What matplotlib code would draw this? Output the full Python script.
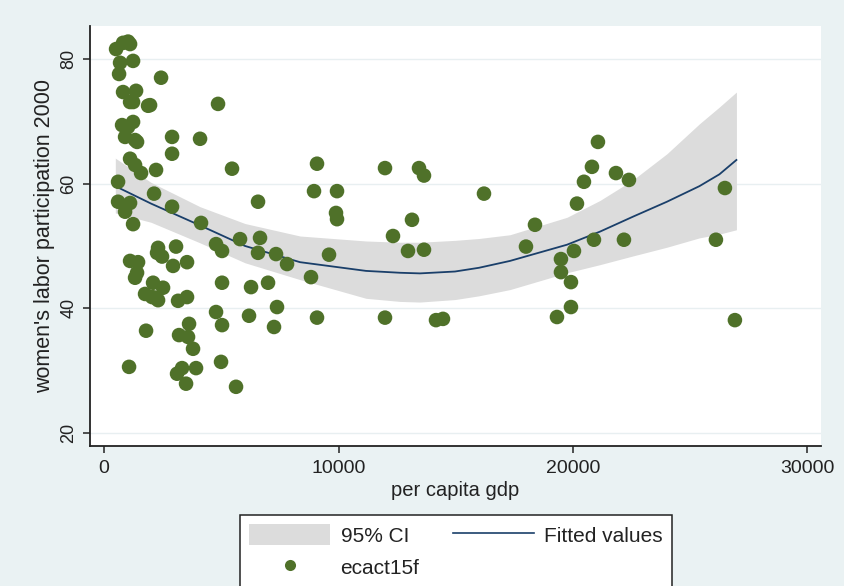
import matplotlib
matplotlib.use("Agg")
import matplotlib.pyplot as plt
from matplotlib.patches import Patch
from matplotlib.lines import Line2D

plt.rcParams['font.family'] = ['Liberation Sans', 'DejaVu Sans']

# ---- data ----
gdp = [512, 810, 1023, 1109, 682, 1237, 640, 2431, 810, 1365, 1109, 1237, 1876, 1962, 4861,
       768, 1237, 1023, 896, 1407, 1322, 2900, 4094, 2900, 1109, 1322, 1578, 2217, 5458,
       597, 2132, 597, 1109, 896, 2900, 6567, 1237, 4136, 2303, 2260, 2473, 3070, 4776,
       5032, 5800, 6652, 6567, 7335, 7804, 1109, 1450, 2942, 3539, 1407, 1322, 5032, 6269,
       6994, 2090, 2516, 1748, 2175, 2303, 2047, 3156, 3539, 4776, 5032, 6183, 7377, 7249,
       1791, 3625, 3198, 3582, 3795, 4989, 1066, 3326, 3113, 3923, 3497, 5629,
       9083, 11983, 13433, 13646, 8955, 9936, 16205, 9893, 9936, 13134, 12324, 9595, 12964,
       13646, 8827, 9083, 11983, 14158, 14456,
       21066, 20810, 21834, 22388, 20469, 20171, 18380, 17996, 20896, 22175, 20043, 19488,
       19488, 19915, 19915, 19318, 26482, 26098, 26908]
ecact15f = [81.6, 82.6, 82.8, 82.4, 79.4, 79.7, 77.6, 77.0, 74.7, 74.9, 73.1, 73.1, 72.5, 72.6, 72.8,
            69.4, 69.9, 69.1, 67.5, 66.7, 67.0, 67.5, 67.2, 64.8, 64.0, 63.0, 61.7, 62.2, 62.4,
            60.3, 58.4, 57.1, 56.9, 55.5, 56.3, 57.1, 53.5, 53.7, 49.7, 48.9, 48.3, 49.9, 50.3,
            49.2, 51.1, 51.3, 48.9, 48.7, 47.1, 47.6, 47.4, 46.8, 47.4, 45.7, 44.9, 44.1, 43.4,
            44.1, 44.1, 43.3, 42.3, 41.7, 41.3, 41.8, 41.2, 41.8, 39.4, 37.3, 38.8, 40.2, 37.0,
            36.4, 37.5, 35.7, 35.4, 33.5, 31.4, 30.6, 30.4, 29.5, 30.4, 27.9, 27.4,
            63.2, 62.5, 62.5, 61.3, 58.8, 58.8, 58.4, 55.3, 54.3, 54.2, 51.6, 48.6, 49.2,
            49.4, 45.0, 38.5, 38.5, 38.1, 38.3,
            66.7, 62.7, 61.7, 60.6, 60.3, 56.8, 53.4, 49.9, 51.0, 51.0, 49.2, 47.9,
            45.8, 44.2, 40.2, 38.6, 59.3, 51.0, 38.1]

fit_x = [480, 2004, 4094, 6013, 8358, 11173, 12623, 13475, 14968, 15991, 17313, 19744,
         21151, 22559, 24009, 25394, 26247, 26972]
fitted = [59.6, 56.8, 53.3, 50.0, 47.4, 46.0, 45.7, 45.6, 45.9, 46.5, 47.6, 50.2,
          52.3, 54.7, 57.1, 59.6, 61.5, 63.8]
ci_hi = [64.1, 60.2, 56.3, 53.6, 51.6, 50.8, 50.6, 50.6, 50.9, 51.2, 51.8, 54.6,
         57.3, 60.6, 64.8, 69.6, 72.3, 74.7]
ci_lo = [55.3, 53.8, 50.5, 47.3, 44.6, 41.6, 41.1, 41.0, 41.4, 42.0, 43.0, 45.7,
         47.0, 48.4, 49.8, 51.3, 51.9, 52.6]

x_ticks = [0, 10000, 20000, 30000]
y_ticks = [20, 40, 60, 80]

# ---- styling ----
bg = '#EAF2F3'
ci_color = '#DCDCDC'
line_color = '#1A3F6A'
dot_color = '#4F7129'

fig = plt.figure(figsize=(8.45, 5.86), dpi=100, facecolor=bg)
ax = fig.add_axes([90/845, 1-446/586, (821-90)/845, (446-26)/586])
ax.set_facecolor('white')

ax.fill_between(fit_x, ci_lo, ci_hi, color=ci_color, linewidth=0, zorder=1)
ax.plot(fit_x, fitted, color=line_color, lw=1.3, zorder=2)
ax.scatter(gdp, ecact15f, s=110, color=dot_color, edgecolors='none', zorder=3)

ax.set_xlim(-600, 30580)
ax.set_ylim(17.9, 85.3)
ax.set_xticks(x_ticks)
ax.set_yticks(y_ticks)
ax.set_xticklabels([str(v) for v in x_ticks])
ax.set_yticklabels([str(v) for v in y_ticks])

ax.grid(axis='y', color='#E8EFF1', lw=1.0, zorder=0)
ax.set_axisbelow(True)

for s in ['top', 'right']:
    ax.spines[s].set_visible(False)
for s in ['left', 'bottom']:
    ax.spines[s].set_color('#222222')
    ax.spines[s].set_linewidth(1.3)

ax.tick_params(axis='both', direction='out', length=5, width=1.1, color='#222222',
               labelcolor='#222222')
ax.tick_params(axis='x', labelsize=14, pad=5)
ax.tick_params(axis='y', labelsize=13, pad=4, labelrotation=90)
for lab in ax.get_yticklabels():
    lab.set_va('center')

ax.set_xlabel('per capita gdp', fontsize=14.5, color='#222222', labelpad=3)
ax.set_ylabel("women's labor participation 2000", fontsize=15.5, color='#222222', labelpad=4)

handles = [Patch(facecolor=ci_color, edgecolor='none'),
           Line2D([], [], marker='o', linestyle='none', markersize=8,
                  markerfacecolor=dot_color, markeredgecolor='none'),
           Line2D([], [], color=line_color, lw=1.2)]
labels = ['95% CI', 'ecact15f', 'Fitted values']
leg = fig.legend(handles, labels, ncol=2, loc='upper center',
                 bbox_to_anchor=(456/845, 1-515/586), bbox_transform=fig.transFigure,
                 fontsize=15, frameon=True, fancybox=False, framealpha=1,
                 facecolor='white', edgecolor='#222222',
                 handlelength=3.9, handleheight=1.15, handletextpad=0.5,
                 columnspacing=1.6, borderpad=0.45, labelspacing=0.5, borderaxespad=0)
leg.get_frame().set_linewidth(1.1)
for t in leg.get_texts():
    t.set_color('#222222')

fig.savefig('out.png', dpi=100, facecolor=bg)
